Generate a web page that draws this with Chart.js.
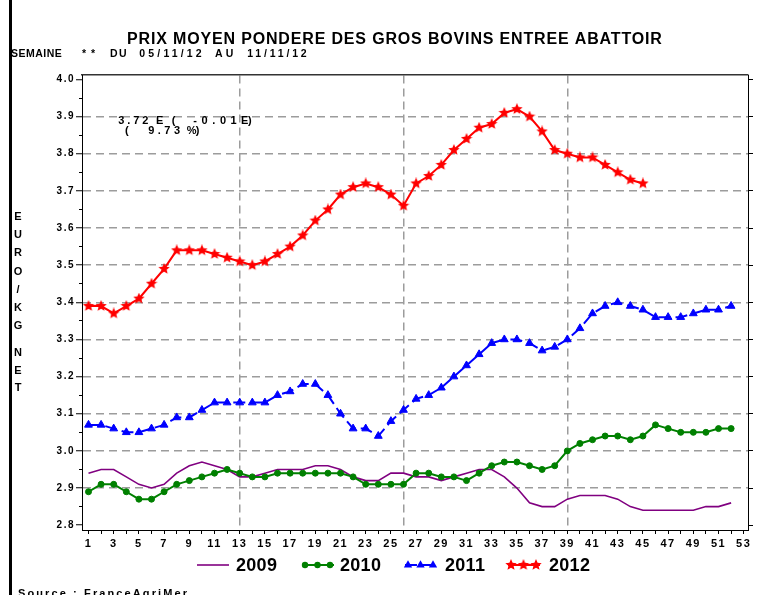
<!DOCTYPE html>
<html><head><meta charset="utf-8">
<script src="https://cdn.jsdelivr.net/npm/chart.js@4.4.0/dist/chart.umd.min.js"></script>
<style>html,body{margin:0;padding:0;background:#fff;overflow:hidden}canvas{display:block}</style>
</head><body>
<canvas id="c" width="764" height="595"></canvas>
<script>
// ---------- data ----------
const weeks = [1,2,3,4,5,6,7,8,9,10,11,12,13,14,15,16,17,18,19,20,21,22,23,24,25,26,27,28,29,30,31,32,33,34,35,36,37,38,39,40,41,42,43,44,45,46,47,48,49,50,51,52,53];
const yTicks = [2.8,2.9,3.0,3.1,3.2,3.3,3.4,3.5,3.6,3.7,3.8,3.9,4.0];
const yMinorTicks = [2.85,2.95,3.05,3.15,3.25,3.35,3.45,3.55,3.65,3.75,3.85,3.95];
const quarterWeeks = [13,26,39];
const seriesNames = ['2009','2010','2011','2012'];
const s2009 = [2.94,2.95,2.95,2.93,2.91,2.90,2.91,2.94,2.96,2.97,
               2.96,2.95,2.93,2.93,2.94,2.95,2.95,2.95,2.96,2.96,
               2.95,2.93,2.92,2.92,2.94,2.94,2.93,2.93,2.92,2.93,
               2.94,2.95,2.95,2.93,2.90,2.86,2.85,2.85,2.87,2.88,
               2.88,2.88,2.87,2.85,2.84,2.84,2.84,2.84,2.84,2.85,
               2.85,2.86];
const s2010 = [2.89,2.91,2.91,2.89,2.87,2.87,2.89,2.91,2.92,2.93,
               2.94,2.95,2.94,2.93,2.93,2.94,2.94,2.94,2.94,2.94,
               2.94,2.93,2.91,2.91,2.91,2.91,2.94,2.94,2.93,2.93,
               2.92,2.94,2.96,2.97,2.97,2.96,2.95,2.96,3.00,3.02,
               3.03,3.04,3.04,3.03,3.04,3.07,3.06,3.05,3.05,3.05,
               3.06,3.06];
const s2011 = [3.07,3.07,3.06,3.05,3.05,3.06,3.07,3.09,3.09,3.11,
               3.13,3.13,3.13,3.13,3.13,3.15,3.16,3.18,3.18,3.15,
               3.10,3.06,3.06,3.04,3.08,3.11,3.14,3.15,3.17,3.20,
               3.23,3.26,3.29,3.30,3.30,3.29,3.27,3.28,3.30,3.33,
               3.37,3.39,3.40,3.39,3.38,3.36,3.36,3.36,3.37,3.38,
               3.38,3.39];
const s2012 = [3.39,3.39,3.37,3.39,3.41,3.45,3.49,3.54,3.54,3.54,
               3.53,3.52,3.51,3.50,3.51,3.53,3.55,3.58,3.62,3.65,
               3.69,3.71,3.72,3.71,3.69,3.66,3.72,3.74,3.77,3.81,
               3.84,3.87,3.88,3.91,3.92,3.90,3.86,3.81,3.80,3.79,
               3.79,3.77,3.75,3.73,3.72];
const titleText = 'PRIX MOYEN PONDERE DES GROS BOVINS ENTREE ABATTOIR';
const subtitleParts = ['SEMAINE','**','DU','05/11/12','AU','11/11/12'];
const noteLine1 = ['3.72','E','(','-0.01','E)'];
const noteLine2 = ['(','9.73','%)'];
const yTitleWord1 = 'EURO/KG';
const yTitleWord2 = 'NET';
const sourceText = 'Source : FranceAgriMer';

// ---------- drawing ----------
const FONT = '"Liberation Sans", Arial, Helvetica, sans-serif';
const X_MIN = 0.484, X_MAX = 53.34, Y_MIN = 2.787, Y_MAX = 4.012;

function makeStar(color, size) {
  const c = document.createElement('canvas');
  c.width = size; c.height = size;
  const g = c.getContext('2d');
  const cx = size / 2, cy = size / 2, R = size / 2, r = R * 0.45;
  g.beginPath();
  for (let i = 0; i < 10; i++) {
    const a = -Math.PI / 2 + i * Math.PI / 5;
    const rad = i % 2 ? r : R;
    g.lineTo(cx + rad * Math.cos(a), cy + rad * Math.sin(a));
  }
  g.closePath();
  g.fillStyle = color; g.fill();
  return c;
}
const starImg = makeStar('#ff0000', 12);

function toXY(vals) { return vals.map((v, i) => ({ x: weeks[i], y: v })); }

function fitText(ctx, text, x, y, width) {
  ctx.letterSpacing = '0px';
  const w = ctx.measureText(text).width;
  const n = text.length;
  const ls = n > 1 ? (width - w) / (n - 1) : 0;
  ctx.letterSpacing = ls.toFixed(2) + 'px';
  ctx.fillText(text, x, y);
  ctx.letterSpacing = '0px';
}

const decor = {
  id: 'decor',
  beforeDraw(chart) {
    const ctx = chart.ctx;
    ctx.save();
    ctx.fillStyle = '#fff'; ctx.fillRect(0, 0, chart.width, chart.height);
    ctx.fillStyle = '#000'; ctx.fillRect(9, 0, 3, chart.height);
    ctx.restore();
    ctx.letterSpacing = '1.5px';
  },
  afterDraw(chart) {
    const ctx = chart.ctx;
    ctx.save();
    ctx.letterSpacing = '0px';
    ctx.fillStyle = '#000';
    ctx.textAlign = 'left';
    ctx.textBaseline = 'alphabetic';
    // title
    ctx.font = 'bold 16px ' + FONT;
    fitText(ctx, titleText, 127, 43.5, 535);
    // subtitle
    ctx.font = 'bold 10.5px ' + FONT;
    const subPos = [[11, 50.7], [82, 13], [110, 16.7], [139.3, 62.4], [215, 18.3], [247.3, 59.4]];
    subtitleParts.forEach((t, i) => fitText(ctx, t, subPos[i][0], 57, subPos[i][1]));
    // note
    ctx.font = 'bold 11px ' + FONT;
    const n1 = [[118.3, 30], [156, 7.3], [171.7, 3.3], [193.3, 43.4], [241, 10.7]];
    noteLine1.forEach((t, i) => fitText(ctx, t, n1[i][0], 124, n1[i][1]));
    const n2 = [[125, 4.3], [148.3, 31.7], [186.7, 12.6]];
    noteLine2.forEach((t, i) => fitText(ctx, t, n2[i][0], 133.5, n2[i][1]));
    // y title (stacked letters)
    ctx.font = 'bold 11px ' + FONT;
    ctx.textAlign = 'center';
    ctx.textBaseline = 'middle';
    yTitleWord1.split('').forEach((ch, i) => ctx.fillText(ch, 18, 217 + i * 18.2));
    yTitleWord2.split('').forEach((ch, i) => ctx.fillText(ch, 18, 353 + i * 17.6));
    // source
    ctx.textAlign = 'left';
    ctx.textBaseline = 'alphabetic';
    fitText(ctx, sourceText, 18, 597, 169);
    // legend
    drawLegend(chart);
    ctx.restore();
    ctx.letterSpacing = '0px';
  }
};

function drawLegend(chart) {
  const ctx = chart.ctx;
  const y = 565;
  const pos = [[197, 236], [302, 340], [405, 445], [508, 549]];
  chart.data.datasets.forEach((ds, i) => {
    const x0 = pos[i][0];
    ctx.save();
    ctx.strokeStyle = ds.borderColor;
    ctx.lineWidth = ds.borderWidth;
    ctx.setLineDash(ds.borderDash || []);
    ctx.beginPath(); ctx.moveTo(x0, y); ctx.lineTo(x0 + 32, y); ctx.stroke();
    ctx.setLineDash([]);
    ctx.fillStyle = ds.borderColor;
    [x0 + 3, x0 + 15.5, x0 + 28].forEach(mx => {
      if (ds.pointStyle === 'circle') {
        ctx.beginPath(); ctx.arc(mx, y, 3.2, 0, Math.PI * 2); ctx.fill();
      } else if (ds.pointStyle === 'triangle') {
        const r = 4.8;
        ctx.beginPath();
        ctx.moveTo(mx, y - r);
        ctx.lineTo(mx + r * 0.866, y + r * 0.5);
        ctx.lineTo(mx - r * 0.866, y + r * 0.5);
        ctx.closePath(); ctx.fill();
      } else if (ds.pointStyle === starImg) {
        ctx.drawImage(starImg, mx - 6, y - 6);
      }
    });
    ctx.fillStyle = '#000';
    ctx.font = 'bold 18px ' + FONT;
    ctx.textAlign = 'left';
    ctx.textBaseline = 'middle';
    ctx.letterSpacing = '0.3px';
    ctx.fillText(seriesNames[i], pos[i][1], y + 1);
    ctx.restore();
  });
}

const tickFontY = { family: FONT, size: 10, weight: 'bold' };
const tickFontX = { family: FONT, size: 11, weight: 'bold' };

new Chart(document.getElementById('c'), {
  type: 'line',
  data: {
    datasets: [
      { label: seriesNames[0], data: toXY(s2009), borderColor: '#800080', borderWidth: 1.6,
        pointRadius: 0, pointStyle: false, order: 3, xAxisID: 'x', yAxisID: 'y' },
      { label: seriesNames[1], data: toXY(s2010), borderColor: '#008000', borderWidth: 2,
        pointStyle: 'circle', pointRadius: 3, pointBackgroundColor: '#008000', pointBorderColor: '#008000',
        pointBorderWidth: 1, order: 2, xAxisID: 'x', yAxisID: 'y' },
      { label: seriesNames[2], data: toXY(s2011), borderColor: '#0000ff', borderWidth: 2, borderDash: [12, 5],
        pointStyle: 'triangle', pointRadius: 4.5, pointBackgroundColor: '#0000ff', pointBorderColor: '#0000ff',
        pointBorderWidth: 1, order: 1, xAxisID: 'x', yAxisID: 'y' },
      { label: seriesNames[3], data: toXY(s2012), borderColor: '#ff0000', borderWidth: 2,
        pointStyle: starImg, pointRadius: 6, order: 0, xAxisID: 'x', yAxisID: 'y' }
    ]
  },
  options: {
    responsive: false,
    animation: false,
    devicePixelRatio: 1,
    layout: { padding: { top: 75, left: 0, right: 0, bottom: 0 } },
    plugins: { legend: { display: false }, tooltip: { enabled: false }, title: { display: false } },
    scales: {
      x: {
        type: 'linear', position: 'bottom', min: X_MIN, max: X_MAX, bounds: 'data',
        afterBuildTicks: s => { s.ticks = weeks.map(v => ({ value: v })); },
        afterFit: s => { s.height = 65; },
        ticks: { autoSkip: false, maxRotation: 0, minRotation: 0, padding: 3, color: '#000', font: tickFontX,
                 callback: v => (v % 2 === 1 ? String(v) : '') },
        grid: { drawOnChartArea: false, drawTicks: true, tickLength: 4, tickColor: '#000', tickWidth: 1 },
        border: { display: true, color: '#000', width: 1 }
      },
      xq: {
        type: 'linear', position: 'top', min: X_MIN, max: X_MAX, bounds: 'data',
        afterBuildTicks: s => { s.ticks = quarterWeeks.map(v => ({ value: v })); },
        afterFit: s => { s.height = 0; },
        ticks: { display: false },
        grid: { color: '#9c9c9c', lineWidth: 1.5, drawTicks: false },
        border: { display: true, color: '#333', width: 1.5, dash: [8, 5] }
      },
      y: {
        type: 'linear', position: 'left', weight: 1, min: Y_MIN, max: Y_MAX, bounds: 'data',
        afterBuildTicks: s => { s.ticks = yTicks.map(v => ({ value: v })); },
        afterFit: s => { s.width = 82; },
        ticks: { padding: 1, color: '#000', font: tickFontY, callback: v => Number(v).toFixed(1) },
        grid: {
          color: c => (c.tick && c.tick.value > 2.85 && c.tick.value < 3.95) ? '#9c9c9c' : 'rgba(0,0,0,0)',
          lineWidth: 1.5, tickLength: 6, tickColor: '#000', tickWidth: 1
        },
        border: { display: true, color: '#000', width: 1, dash: [8, 5] }
      },
      yMinor: {
        type: 'linear', position: 'left', weight: 0, min: Y_MIN, max: Y_MAX, bounds: 'data',
        afterBuildTicks: s => { s.ticks = yMinorTicks.map(v => ({ value: v })); },
        afterFit: s => { s.width = 0; },
        ticks: { display: false },
        grid: { drawOnChartArea: false, tickLength: 3, tickColor: '#000', tickWidth: 1 },
        border: { display: false }
      },
      y2: {
        type: 'linear', position: 'right', min: Y_MIN, max: Y_MAX, bounds: 'data',
        afterBuildTicks: s => { s.ticks = yTicks.map(v => ({ value: v })); },
        afterFit: s => { s.width = 16; },
        ticks: { display: false },
        grid: { drawOnChartArea: false, tickLength: 5, tickColor: '#000', tickWidth: 1 },
        border: { display: true, color: '#000', width: 1 }
      }
    }
  },
  plugins: [decor]
});
</script>
</body></html>
